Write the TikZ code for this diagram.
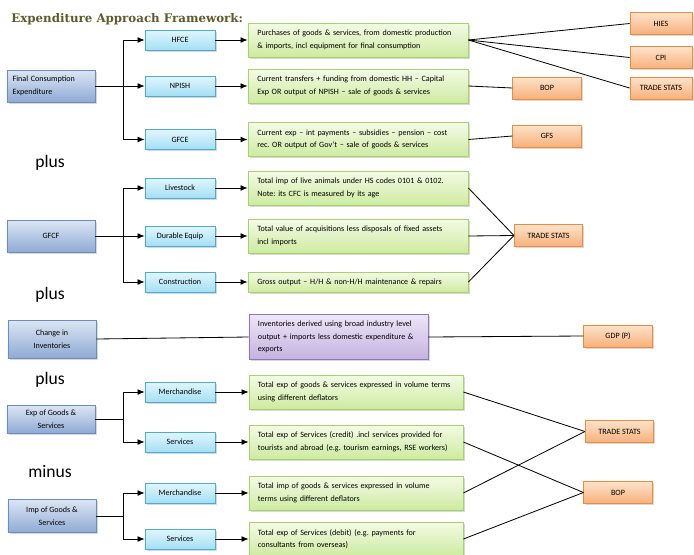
\documentclass[tikz,border=0pt]{standalone}
\usepackage{fontspec}
\setmainfont{Carlito}
\newfontfamily\titlefont{DejaVu Serif}
\usetikzlibrary{arrows.meta,shadows}
\definecolor{titlecol}{HTML}{5E5A2A}
\definecolor{secline}{HTML}{6A8CC0}
\definecolor{sectop}{HTML}{DCE6F4}
\definecolor{secbot}{HTML}{8FAAD4}
\definecolor{itemline}{HTML}{4BACD8}
\definecolor{itemtop}{HTML}{E2F6FD}
\definecolor{itembot}{HTML}{A3DFF5}
\definecolor{descline}{HTML}{A5D36A}
\definecolor{desctop}{HTML}{F4FBE6}
\definecolor{descbot}{HTML}{CDEBA0}
\definecolor{srcline}{HTML}{ED8B3F}
\definecolor{srctop}{HTML}{FDE3CB}
\definecolor{srcbot}{HTML}{F8B07A}
\definecolor{invline}{HTML}{8E76B8}
\definecolor{invtop}{HTML}{EDE6F7}
\definecolor{invbot}{HTML}{C4B2DF}
\frenchspacing

\begin{document}
\begin{tikzpicture}[x=0.03cm,y=-0.03cm,>={Latex[length=6pt,width=5pt]},
  font=\fontsize{6.9}{10.8}\selectfont,line width=0.7pt,
  boxshadow/.style={drop shadow={shadow xshift=1.5pt,shadow yshift=-1.5pt,fill=black!30}},
  sector/.style={boxshadow,draw=secline,top color=sectop,bottom color=secbot,minimum width=2.64cm,minimum height=0.96cm,align=center},
  item/.style={boxshadow,draw=itemline,top color=itemtop,bottom color=itembot,minimum width=2.1cm,minimum height=0.6cm},
  desc/.style={boxshadow,draw=descline,top color=desctop,bottom color=descbot,inner xsep=0.28cm,text width=6.04cm,minimum height=1.02cm,align=left},
  desctwo/.style={desc,inner xsep=0.27cm,text width=5.88cm},
  source/.style={boxshadow,draw=srcline,top color=srctop,bottom color=srcbot,minimum width=2.05cm,minimum height=0.66cm},
  derive/.style={boxshadow,draw=invline,top color=invtop,bottom color=invbot,inner xsep=0.27cm,text width=4.83cm,minimum height=1.35cm,align=left},
  word/.style={font=\fontsize{15}{18}\selectfont}]
\useasboundingbox (0,0) rectangle (694,554);

\node[anchor=west,font=\titlefont\bfseries\fontsize{10.1}{12}\selectfont,text=titlecol] (title) at (7,19) {Expenditure Approach Framework:};

\node[sector,align=left,text width=2.3cm,inner xsep=0.17cm] (fce) at (51,86) {Final Consumption\\Expenditure};
\node[item] (hfce) at (180,40) {HFCE};
\node[item] (npish) at (180,86) {NPISH};
\node[item] (gfce) at (180,139.5) {GFCE};
\node[desc] (dhfce) at (358,40) {Purchases of goods \& services, from domestic production\\\& imports, incl equipment for final consumption};
\node[desc] (dnpish) at (358,86) {Current transfers + funding from domestic HH -- Capital\\Exp OR output of NPISH -- sale of goods \& services};
\node[desc] (dgfce) at (358,139.5) {Current exp -- int payments -- subsidies -- pension -- cost\\rec. OR output of Gov't -- sale of goods \& services};
\node[source,minimum width=1.86cm] (hies) at (661,23.5) {HIES};
\node[source,minimum width=1.86cm] (cpi) at (661,57.5) {CPI};
\node[source,minimum width=1.86cm] (tsa) at (661,88) {TRADE STATS};
\node[source] (bopa) at (547,88) {BOP};
\node[source] (gfs) at (547,136) {GFS};

\node[word] (plusa) at (50,163) {plus};

\node[sector] (gfcf) at (51,236) {GFCF};
\node[item] (live) at (180,188) {Livestock};
\node[item] (dur) at (180,236) {Durable Equip};
\node[item] (cons) at (180,282) {Construction};
\node[desc] (dlive) at (358,188) {Total imp of live animals under HS codes 0101 \& 0102.\\Note: its CFC is measured by its age};
\node[desc] (ddur) at (358,236) {Total value of acquisitions less disposals of fixed assets\\incl imports};
\node[desc,minimum height=0.6cm] (dcons) at (358,282) {Gross output -- H/H \& non-H/H maintenance \& repairs};
\node[source] (tsb) at (548.5,235.5) {TRADE STATS};

\node[word] (plusb) at (50,295) {plus};

\node[sector,minimum height=1.14cm] (inv) at (52,339) {Change in\\Inventories};
\node[derive] (dinv) at (338.5,337) {Inventories derived using broad industry level\\output + imports less domestic expenditure \&\\exports};
\node[source] (gdp) at (618,336) {GDP (P)};

\node[word] (plusc) at (50,380) {plus};

\node[sector,minimum height=0.84cm] (exg) at (51,419) {Exp of Goods \&\\Services};
\node[item] (exm) at (180,392) {Merchandise};
\node[item] (exs) at (180,442) {Services};
\node[desctwo] (dexm) at (356,392) {Total exp of goods \& services expressed in volume terms\\using different deflators};
\node[desctwo] (dexs) at (356,442) {Total exp of Services (credit) .incl services provided for\\tourists and abroad (e.g. tourism earnings, RSE workers)};

\node[word] (minus) at (50,472) {minus};

\node[sector,minimum height=1.0cm] (img) at (52,516) {Imp of Goods \&\\Services};
\node[item] (imm) at (180,493) {Merchandise};
\node[item] (ims) at (180,539) {Services};
\node[desctwo] (dimm) at (356,493) {Total imp of goods \& services expressed in volume\\terms using different deflators};
\node[desctwo] (dims) at (356,539) {Total exp of Services (debit) (e.g. payments for\\consultants from overseas)};
\node[source] (tsc) at (619.5,431.5) {TRADE STATS};
\node[source] (bopb) at (618,492.5) {BOP};

\coordinate (ja) at (123,86);
\coordinate (jb) at (123,236);
\coordinate (jc) at (123,419);
\coordinate (jd) at (123,516);
\draw (fce) -- (ja);
\draw (gfcf) -- (jb);
\draw (exg) -- (jc);
\draw (img) -- (jd);
\foreach \j/\t in {ja/hfce,ja/npish,ja/gfce,jb/live,jb/dur,jb/cons,jc/exm,jc/exs,jd/imm,jd/ims}
  \draw[->] (\j) |- (\t);
\foreach \a in {hfce,npish,gfce,live,dur,cons,exm,exs,imm,ims}
  \draw[->] (\a) -- (d\a);
\foreach \a/\b in {dhfce/hies,dhfce/cpi,dhfce/tsa,dnpish/bopa,dgfce/gfs,dlive/tsb,ddur/tsb,dcons/tsb,inv/dinv,dinv/gdp,dexm/tsc,dexs/bopb,dimm/tsc,dims/bopb}
  \draw (\a.east) -- (\b.west);
\end{tikzpicture}
\end{document}
